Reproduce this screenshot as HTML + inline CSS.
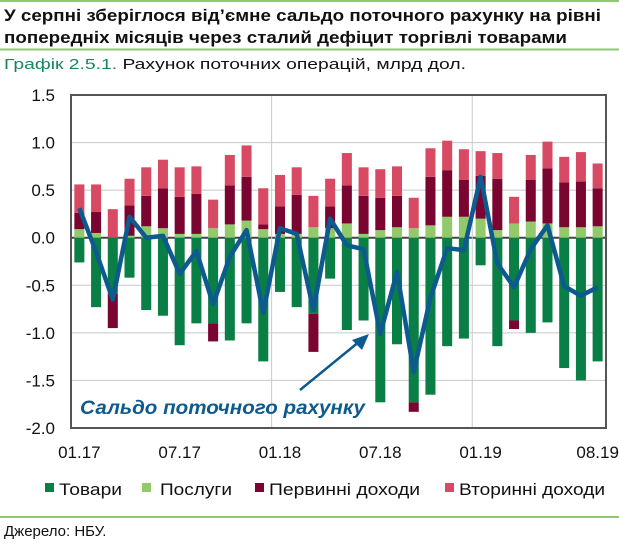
<!DOCTYPE html>
<html><head><meta charset="utf-8"><style>
html,body{margin:0;padding:0;background:#fff;}
svg{display:block;font-family:"Liberation Sans",Arial,sans-serif;}
</style></head><body>
<svg id="chart" width="619" height="547" viewBox="0 0 619 547">
<line x1="0" y1="1" x2="619" y2="1" stroke="#92c96a" stroke-width="2"/>
<text x="4" y="21" font-size="17" font-weight="bold" fill="#111" textLength="597" lengthAdjust="spacingAndGlyphs">У серпні зберіглося від’ємне сальдо поточного рахунку на рівні</text>
<text x="4" y="43" font-size="17" font-weight="bold" fill="#111" textLength="563" lengthAdjust="spacingAndGlyphs">попередніх місяців через сталий дефіцит торгівлі товарами</text>
<line x1="0" y1="49.5" x2="619" y2="49.5" stroke="#92c96a" stroke-width="2"/>
<text x="4" y="69" font-size="15" fill="#111" textLength="462" lengthAdjust="spacingAndGlyphs"><tspan fill="#17875a">Графік 2.5.1.</tspan> Рахунок поточних операцій, млрд дол.</text>
<g id="grid"></g>
<g id="bars"></g>
<g id="lineg"></g>
<rect x="71" y="95" width="535" height="333" fill="none" stroke="#555" stroke-width="2"/>
<g id="yt"></g>
<g id="xt"></g>
<text x="80" y="414" font-size="19" font-weight="bold" font-style="italic" fill="#0d5a8f" textLength="285" lengthAdjust="spacingAndGlyphs">Сальдо поточного рахунку</text>
<line x1="300" y1="390" x2="360" y2="341" stroke="#0d5a8f" stroke-width="2.5"/>
<polygon points="369,334 352,340 362,350" fill="#0d5a8f"/>
<g>
<rect x="45" y="483" width="9" height="9" fill="#0a7f45"/>
<text x="59" y="495" font-size="17" fill="#111" textLength="63" lengthAdjust="spacingAndGlyphs">Товари</text>
<rect x="142" y="483" width="9" height="9" fill="#92c96a"/>
<text x="160" y="495" font-size="17" fill="#111" textLength="72" lengthAdjust="spacingAndGlyphs">Послуги</text>
<rect x="255" y="483" width="9" height="9" fill="#7a0530"/>
<text x="269" y="495" font-size="17" fill="#111" textLength="151" lengthAdjust="spacingAndGlyphs">Первинні доходи</text>
<rect x="445" y="483" width="9" height="9" fill="#d84a63"/>
<text x="459" y="495" font-size="17" fill="#111" textLength="146" lengthAdjust="spacingAndGlyphs">Вторинні доходи</text>
</g>
<line x1="0" y1="517" x2="619" y2="517" stroke="#92c96a" stroke-width="2"/>
<text x="4" y="536" font-size="15" fill="#111">Джерело: НБУ.</text>
</svg>
<script>
const months = ["01.17","02.17","03.17","04.17","05.17","06.17","07.17","08.17","09.17","10.17","11.17","12.17","01.18","02.18","03.18","04.18","05.18","06.18","07.18","08.18","09.18","10.18","11.18","12.18","01.19","02.19","03.19","04.19","05.19","06.19","07.19","08.19"];
const goods = [-0.26,-0.73,-0.59,-0.42,-0.76,-0.82,-1.13,-0.9,-0.9,-1.08,-0.9,-1.3,-0.57,-0.73,-0.8,-0.43,-0.97,-0.87,-1.73,-1.12,-1.73,-1.65,-1.14,-1.06,-0.29,-1.14,-0.87,-1.0,-0.89,-1.37,-1.5,-1.3];
const services = [0.09,0.05,0.0,0.02,0.12,0.1,0.04,0.04,0.1,0.14,0.18,0.09,0.04,0.04,0.11,0.1,0.15,0.04,0.08,0.11,0.1,0.13,0.22,0.22,0.2,0.08,0.15,0.17,0.15,0.11,0.11,0.12];
const primary = [0.17,0.22,-0.36,0.32,0.32,0.42,0.39,0.42,-0.19,0.41,0.46,0.05,0.29,0.41,-0.4,0.23,0.4,0.4,0.34,0.33,-0.1,0.51,0.49,0.39,0.45,0.54,-0.09,0.44,0.58,0.47,0.48,0.4];
const secondary = [0.3,0.29,0.3,0.28,0.3,0.3,0.31,0.29,0.3,0.32,0.33,0.38,0.33,0.29,0.33,0.29,0.34,0.3,0.3,0.31,0.32,0.3,0.31,0.32,0.26,0.27,0.28,0.26,0.28,0.27,0.31,0.26];
const balance = [0.31,-0.15,-0.65,0.22,0.0,0.02,-0.38,-0.14,-0.7,-0.2,0.08,-0.79,0.1,0.04,-0.76,0.2,-0.08,-0.12,-1.01,-0.36,-1.41,-0.63,-0.11,-0.13,0.64,-0.27,-0.52,-0.12,0.13,-0.51,-0.61,-0.52];
const yTicks = [1.5,1.0,0.5,0.0,-0.5,-1.0,-1.5,-2.0];
const xLabels = ["01.17","07.17","01.18","07.18","01.19","08.19"];

const NS="http://www.w3.org/2000/svg";
const X0=71,X1=606,Y0=95,Y1=428,YMAX=1.5,YMIN=-2.0;
const band=(X1-X0)/months.length;
const y=v=>Y0+(YMAX-v)/(YMAX-YMIN)*(Y1-Y0);
const xc=i=>X0+(i+0.5)*band;
function mk(tag,attrs,parent){const e=document.createElementNS(NS,tag);for(const k in attrs)e.setAttribute(k,attrs[k]);parent.appendChild(e);return e;}
const grid=document.getElementById('grid'),bars=document.getElementById('bars'),lg=document.getElementById('lineg'),yt=document.getElementById('yt'),xt=document.getElementById('xt');
yTicks.forEach(t=>{
  const l=mk('line',{x1:X0,x2:X1,y1:y(t),y2:y(t),stroke:t===0?'#444':'#c8c8c8','stroke-width':t===0?2:1},grid);
  
  
  const tx=mk('text',{x:55,y:y(t)+6,'font-size':17,'text-anchor':'end',fill:'#111'},yt);
  tx.textContent=t.toFixed(1);
  
  
});
["01.18","01.19"].forEach(m=>{
  const i=months.indexOf(m);const gx=X0+i*band;
  const l=mk('line',{x1:gx,x2:gx,y1:Y0,y2:Y1,stroke:'#c8c8c8','stroke-width':1},grid);
  
  
});
xLabels.forEach(m=>{
  const i=months.indexOf(m);
  const tx=mk('text',{x:xc(i),y:458,'font-size':17,'text-anchor':'middle',fill:'#111'},xt);
  tx.textContent=m;
  
  
});
const bw=band*0.6;
function seg(i,a,b,color,name){
  const top=Math.max(a,b),bot=Math.min(a,b);
  const r=mk('rect',{x:xc(i)-bw/2,y:y(top),width:bw,height:Math.max(0,y(bot)-y(top)),fill:color},bars);
  
  
}
months.forEach((m,i)=>{
  let pos=0,neg=0;
  const parts=[[goods[i],'#0a7f45','bar-goods'],[services[i],'#92c96a','bar-services'],[primary[i],'#7a0530','bar-primary-income'],[secondary[i],'#d84a63','bar-secondary-income']];
  parts.forEach(([v,c,n])=>{
    if(v>=0){seg(i,pos,pos+v,c,n);pos+=v;}
    else{seg(i,neg,neg+v,c,n);neg+=v;}
  });
});
const pts=balance.map((v,i)=>xc(i)+','+y(v)).join(' ');
const pl=mk('polyline',{points:pts,fill:'none',stroke:'#0d5a8f','stroke-width':4.5,'stroke-linejoin':'round'},lg);


</script>
</body></html>
